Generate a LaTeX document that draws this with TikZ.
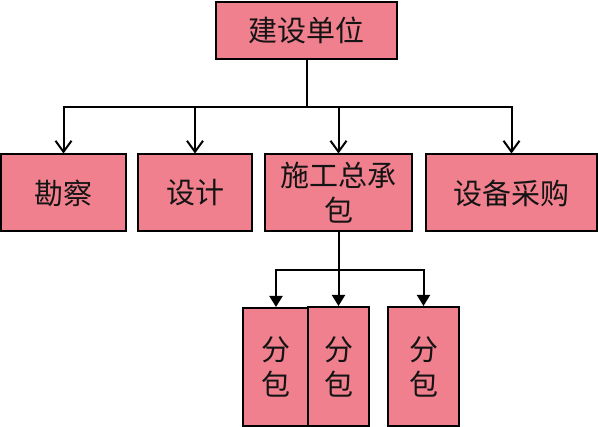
\documentclass[tikz,border=0pt]{standalone}
\usepackage{fontspec}
\setmainfont{Noto Sans CJK SC}
\usetikzlibrary{arrows.meta, positioning}
\definecolor{PK}{RGB}{240,128,142}
\definecolor{DK}{RGB}{20,20,20}

\begin{document}
\begin{tikzpicture}[
  x=1pt, y=-1pt,
  unit/.style={draw=black, line width=2pt, fill=PK, text=DK,
               minimum width=#1, inner sep=0pt, align=center,
               font=\fontsize{29}{35}\selectfont},
  earr/.style={draw=black, line width=2pt,
               -{Straight Barb[length=11pt,width=16pt,line width=2pt]}},
  farr/.style={draw=black, line width=2pt,
               -{Triangle[length=11pt,width=13pt]}},
  bus/.style={draw=black, line width=2pt}
]
\useasboundingbox (0,0) rectangle (598,427);

% Owner (top)
\node[unit=181pt, minimum height=57pt] (JS) at (306.5,30.5) {建设单位};

% Second level
\node[unit=125pt, minimum height=77pt] (KC) at (63.5,193)  {勘察};
\node[unit=114pt, minimum height=77pt] (SJ) at (195,193)   {设计};
\node[unit=147pt, minimum height=77pt] (SG) at (338.5,193) {施工总承\\包};
\node[unit=171pt, minimum height=77pt] (SB) at (511.5,193) {设备采购};

\coordinate (B1) at (306.5,107);
\draw[bus] (JS) -- (B1);
\foreach \n in {KC,SJ,SG,SB} \draw[earr] (B1) -| (\n.north);

% Subcontracts
\node[unit=66pt, minimum height=118pt] (FB1) at (276,367)   {分\\包};
\node[unit=61pt, minimum height=119pt] (FB2) at (338.5,366.5) {分\\包};
\node[unit=71pt, minimum height=119pt] (FB3) at (423.5,366.5) {分\\包};

\coordinate (B2) at (338.5,270);
\draw[bus] (SG) -- (B2);
\foreach \n in {FB1,FB2,FB3} \draw[farr] (B2) -| (\n.north);
\end{tikzpicture}
\end{document}
